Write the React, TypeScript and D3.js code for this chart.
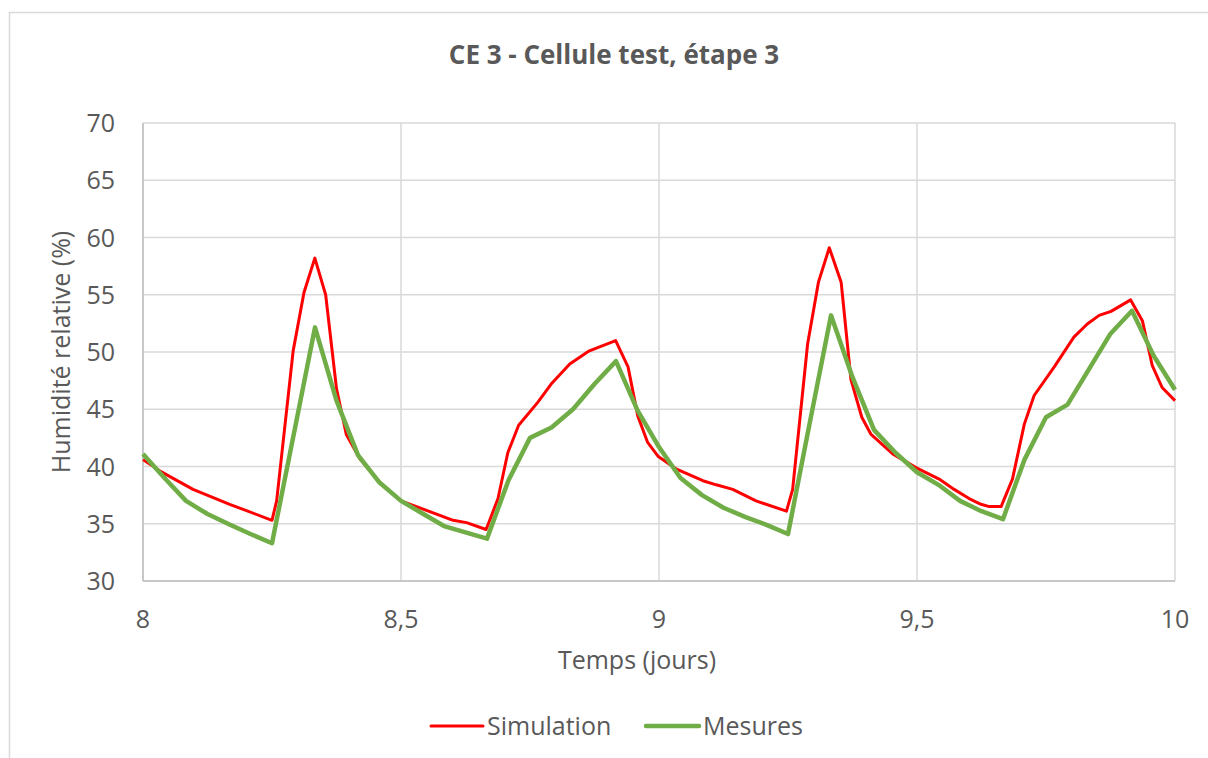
import { useMemo } from 'react';
import * as d3 from 'd3';

// Mesures horaires (heure depuis le jour 8) et humidité relative (%)
const mesuresHeures = [
  0, 1, 2, 3, 4, 5, 6, 7, 8, 9, 10, 11, 12, 13, 14, 15, 16, 17, 18, 19, 20, 21, 22, 23, 24,
  25, 26, 27, 28, 29, 30, 31, 32, 33, 34, 35, 36, 37, 38, 39, 40, 41, 42, 43, 44, 45, 46, 47, 48,
];
const mesuresHR = [
  41.1, 39.0, 37.0, 35.85, 34.95, 34.1, 33.3, 42.7, 52.15, 45.75, 41.0, 38.6, 37.0, 35.9, 34.8, 34.25,
  33.7, 38.8, 42.5, 43.4, 45.0, 47.2, 49.2, 44.9, 41.7, 39.0, 37.5, 36.4, 35.6, 34.9, 34.1, 43.7,
  53.2, 47.8, 43.2, 41.2, 39.5, 38.4, 37.0, 36.1, 35.4, 40.6, 44.3, 45.4, 48.5, 51.6, 53.6, 49.7, 46.7,
];

// Simulation (temps en jours)
const simTemps = [
  8.0, 8.033, 8.097, 8.168, 8.25, 8.259, 8.291, 8.312, 8.333, 8.354, 8.375, 8.394, 8.42, 8.459, 8.5,
  8.601, 8.627, 8.665, 8.688, 8.707, 8.728, 8.765, 8.791, 8.827, 8.865, 8.916, 8.94, 8.959, 8.978, 8.998,
  9.033, 9.085, 9.111, 9.143, 9.188, 9.247, 9.259, 9.288, 9.309, 9.33, 9.353, 9.372, 9.393, 9.411, 9.453,
  9.498, 9.543, 9.572, 9.601, 9.624, 9.64, 9.663, 9.685, 9.708, 9.727, 9.766, 9.804, 9.83, 9.853, 9.876,
  9.914, 9.937, 9.956, 9.975, 10.0,
];
const simHR = [
  40.6, 39.6, 38.0, 36.7, 35.3, 37.0, 50.1, 55.2, 58.2, 55.0, 46.8, 42.8, 40.7, 38.6, 37.0,
  35.3, 35.1, 34.5, 37.2, 41.2, 43.6, 45.6, 47.2, 48.95, 50.1, 51.0, 48.7, 44.4, 42.1, 40.9,
  39.8, 38.76, 38.4, 38.0, 37.0, 36.1, 38.0, 50.7, 56.1, 59.1, 56.1, 47.6, 44.3, 42.8, 41.1,
  39.9, 38.9, 38.0, 37.2, 36.7, 36.5, 36.5, 38.9, 43.7, 46.2, 48.7, 51.3, 52.45, 53.2, 53.55,
  54.55, 52.7, 48.8, 46.9, 45.75,
];

const xTicks = [8, 8.5, 9, 9.5, 10];
const yTicks = [30, 35, 40, 45, 50, 55, 60, 65, 70];

const W = 1208;
const H = 758;
const FONT = '"Open Sans", "Noto Sans", sans-serif';
const TXT = '#595959';
const FS = 25;

export default function App() {
  const x = d3.scaleLinear().domain([8, 10]).range([143, 1175]);
  const y = d3.scaleLinear().domain([30, 70]).range([581, 123]);

  const line = d3
    .line<[number, number]>()
    .x((d) => x(d[0]))
    .y((d) => y(d[1]));

  const simPath = useMemo(
    () => line(simTemps.map((t, i) => [t, simHR[i]] as [number, number])) || '',
    []
  );
  const mesPath = useMemo(
    () => line(mesuresHeures.map((h, i) => [8 + h / 24, mesuresHR[i]] as [number, number])) || '',
    []
  );

  const fmt = (v: number) => String(v).replace('.', ',');

  return (
    <div style={{ position: 'fixed', left: 0, top: 0 }}>
      <svg width={W} height={H} style={{ display: 'block', fontFamily: FONT }}>
        <rect x={0} y={0} width={W} height={H} fill="#fff" />
        <rect x={9.5} y={12.5} width={W + 10} height={H + 10} fill="none" stroke="#d9d9d9" strokeWidth={1.5} />

        <text x={614} y={64} textAnchor="middle" fontSize={26} fontWeight="bold" fill={TXT}>
          CE 3 - Cellule test, étape 3
        </text>

        {/* grille */}
        {yTicks.map((t) => (
          <line key={'gy' + t} x1={x(8)} x2={x(10)} y1={y(t)} y2={y(t)} stroke="#d9d9d9" strokeWidth={1.5} />
        ))}
        {xTicks.map((t) => (
          <line key={'gx' + t} x1={x(t)} x2={x(t)} y1={y(30)} y2={y(70)} stroke="#d9d9d9" strokeWidth={1.5} />
        ))}
        <line x1={x(8)} x2={x(10)} y1={y(30)} y2={y(30)} stroke="#bfbfbf" strokeWidth={1.5} />
        <line x1={x(8)} x2={x(8)} y1={y(30)} y2={y(70)} stroke="#bfbfbf" strokeWidth={1.5} />

        {/* axes */}
        {yTicks.map((t) => (
          <text key={'ty' + t} x={115} y={y(t) + 9} textAnchor="end" fontSize={FS} fill={TXT}>
            {t}
          </text>
        ))}
        {xTicks.map((t) => (
          <text key={'tx' + t} x={x(t)} y={628} textAnchor="middle" fontSize={FS} fill={TXT}>
            {fmt(t)}
          </text>
        ))}
        <text x={637} y={669} textAnchor="middle" fontSize={FS} fill={TXT}>
          Temps (jours)
        </text>
        <text
          transform={`translate(70, ${(y(30) + y(70)) / 2}) rotate(-90)`}
          textAnchor="middle"
          fontSize={FS}
          fill={TXT}
        >
          Humidité relative (%)
        </text>

        {/* séries */}
        <path d={simPath} fill="none" stroke="#ff0000" strokeWidth={3} strokeLinejoin="round" />
        <path d={mesPath} fill="none" stroke="#70ad47" strokeWidth={4.5} strokeLinejoin="round" />

        {/* légende */}
        <line x1={431} x2={483} y1={726} y2={726} stroke="#ff0000" strokeWidth={3} strokeLinecap="round" />
        <text x={487} y={735} fontSize={FS} fill={TXT}>
          Simulation
        </text>
        <line x1={646} x2={699} y1={726} y2={726} stroke="#70ad47" strokeWidth={4.5} strokeLinecap="round" />
        <text x={703} y={735} fontSize={FS} fill={TXT}>
          Mesures
        </text>
      </svg>
    </div>
  );
}
